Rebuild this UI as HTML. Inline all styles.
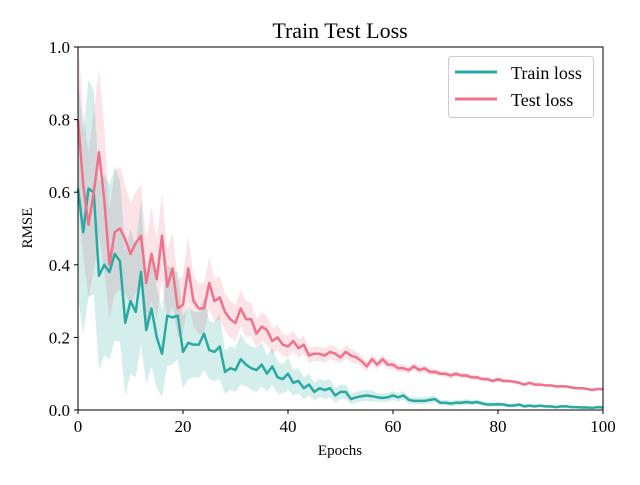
<!DOCTYPE html>
<html><head><meta charset="utf-8"><style>
html,body{margin:0;padding:0;background:#fff}
svg text{font-family:"Liberation Serif",serif}
</style></head><body>
<svg id="chart" width="640" height="480" viewBox="0 0 640 480">
<rect width="640" height="480" fill="#fff"/>
<text x="340" y="38" text-anchor="middle" font-size="22">Train Test Loss</text>
<g id="bands"></g>
<g id="lines"></g>
<rect x="78" y="47" width="525" height="363" fill="none" stroke="#000" stroke-width="1"/>
<g id="ticks"></g>
<text x="340" y="455" text-anchor="middle" font-size="15">Epochs</text>
<text x="32" y="228" text-anchor="middle" font-size="15" transform="rotate(-90 32 228)">RMSE</text>
<g>
<rect x="448.5" y="56.5" width="145" height="61" rx="3" fill="#fff" fill-opacity="0.8" stroke="#ccc"/>
<line x1="455" y1="72" x2="497" y2="72" stroke="#2aa9a1" stroke-width="3"/>
<text x="511" y="79" font-size="18">Train loss</text>
<line x1="455" y1="99" x2="497" y2="99" stroke="#f0718a" stroke-width="3"/>
<text x="511" y="106" font-size="18">Test loss</text>
</g>
</svg>
<script>
const xTicks=[0,20,40,60,80,100];
const yTicks=[0.0,0.2,0.4,0.6,0.8,1.0];
const yTickLabels=["0.0","0.2","0.4","0.6","0.8","1.0"];
const trainLoss=[0.61,0.49,0.61,0.60,0.37,0.40,0.38,0.43,0.41,0.24,0.30,0.27,0.38,0.22,0.28,0.20,0.155,0.26,0.255,0.26,0.16,0.185,0.18,0.18,0.21,0.165,0.16,0.175,0.105,0.115,0.11,0.14,0.125,0.115,0.11,0.125,0.10,0.12,0.09,0.085,0.10,0.075,0.08,0.06,0.07,0.05,0.06,0.055,0.06,0.04,0.05,0.05,0.03,0.035,0.038,0.04,0.038,0.035,0.033,0.035,0.04,0.035,0.04,0.028,0.025,0.025,0.025,0.028,0.03,0.02,0.02,0.018,0.02,0.02,0.022,0.02,0.022,0.018,0.015,0.015,0.016,0.015,0.012,0.012,0.015,0.01,0.012,0.01,0.012,0.01,0.01,0.008,0.01,0.01,0.008,0.008,0.007,0.007,0.006,0.008,0.007];
const testLoss=[0.80,0.62,0.51,0.60,0.71,0.58,0.40,0.49,0.50,0.47,0.43,0.46,0.48,0.35,0.43,0.36,0.48,0.34,0.39,0.28,0.29,0.39,0.30,0.28,0.28,0.35,0.30,0.31,0.27,0.25,0.24,0.28,0.25,0.25,0.21,0.23,0.22,0.19,0.20,0.18,0.175,0.19,0.17,0.18,0.15,0.155,0.155,0.15,0.16,0.155,0.145,0.16,0.15,0.145,0.135,0.12,0.14,0.125,0.14,0.125,0.125,0.115,0.115,0.11,0.12,0.11,0.115,0.105,0.105,0.10,0.10,0.095,0.10,0.095,0.095,0.09,0.09,0.085,0.085,0.08,0.085,0.08,0.08,0.078,0.075,0.07,0.075,0.07,0.07,0.068,0.068,0.065,0.065,0.065,0.062,0.06,0.06,0.058,0.055,0.058,0.057];
const trainStd=[0.3,0.28,0.3,0.28,0.26,0.25,0.24,0.24,0.22,0.2,0.2,0.18,0.2,0.15,0.16,0.14,0.12,0.14,0.13,0.12,0.1,0.1,0.09,0.09,0.1,0.08,0.08,0.09,0.06,0.06,0.06,0.07,0.06,0.06,0.06,0.06,0.05,0.05,0.045,0.04,0.045,0.035,0.035,0.03,0.03,0.025,0.025,0.025,0.025,0.02,0.02,0.02,0.015,0.015,0.015,0.015,0.015,0.012,0.012,0.012,0.012,0.012,0.012,0.01,0.01,0.01,0.01,0.01,0.01,0.008,0.008,0.008,0.008,0.008,0.008,0.007,0.007,0.007,0.006,0.006,0.006,0.006,0.005,0.005,0.005,0.005,0.005,0.004,0.004,0.004,0.004,0.004,0.004,0.004,0.003,0.003,0.003,0.003,0.003,0.003,0.003];
const testStd=[0.22,0.2,0.2,0.22,0.23,0.2,0.15,0.17,0.17,0.15,0.14,0.14,0.14,0.12,0.13,0.11,0.12,0.1,0.1,0.08,0.08,0.09,0.07,0.07,0.07,0.07,0.06,0.06,0.05,0.05,0.05,0.05,0.05,0.045,0.04,0.04,0.04,0.035,0.035,0.03,0.03,0.03,0.025,0.025,0.02,0.02,0.02,0.02,0.02,0.02,0.018,0.018,0.018,0.016,0.015,0.014,0.014,0.013,0.013,0.012,0.012,0.011,0.011,0.01,0.01,0.01,0.01,0.009,0.009,0.008,0.008,0.008,0.008,0.007,0.007,0.007,0.007,0.006,0.006,0.006,0.006,0.006,0.005,0.005,0.005,0.005,0.005,0.005,0.005,0.004,0.004,0.004,0.004,0.004,0.004,0.004,0.004,0.004,0.004,0.004,0.004];

const NS="http://www.w3.org/2000/svg";
const X=v=>78+v*5.25, Y=v=>410-v*363;
const ticks=document.getElementById('ticks');
xTicks.forEach(t=>{
  const l=document.createElementNS(NS,'line');
  l.setAttribute('x1',X(t));l.setAttribute('x2',X(t));l.setAttribute('y1',410);l.setAttribute('y2',414);l.setAttribute('stroke','#000');
  
  
  ticks.appendChild(l);
  const tx=document.createElementNS(NS,'text');
  tx.setAttribute('x',X(t));tx.setAttribute('y',432);tx.setAttribute('text-anchor','middle');tx.setAttribute('font-size','17');
  tx.textContent=t;
  
  
  ticks.appendChild(tx);
});
yTicks.forEach((t,i)=>{
  const l=document.createElementNS(NS,'line');
  l.setAttribute('x1',74);l.setAttribute('x2',78);l.setAttribute('y1',Y(t));l.setAttribute('y2',Y(t));l.setAttribute('stroke','#000');
  
  
  ticks.appendChild(l);
  const tx=document.createElementNS(NS,'text');
  tx.setAttribute('x',70);tx.setAttribute('y',Y(t)+6);tx.setAttribute('text-anchor','end');tx.setAttribute('font-size','17');
  tx.textContent=yTickLabels[i];
  
  
  ticks.appendChild(tx);
});
function band(vals,std,color,name){
  let up=vals.map((v,i)=>X(i)+','+Y(Math.min(1.05,v+std[i])));
  let lo=vals.map((v,i)=>X(i)+','+Y(Math.max(0,v-std[i]))).reverse();
  const p=document.createElementNS(NS,'polygon');
  p.setAttribute('points',up.concat(lo).join(' '));
  p.setAttribute('fill',color);p.setAttribute('fill-opacity','0.2');
  
  
  document.getElementById('bands').appendChild(p);
}
function line(vals,color,name){
  const p=document.createElementNS(NS,'polyline');
  p.setAttribute('points',vals.map((v,i)=>X(i)+','+Y(v)).join(' '));
  p.setAttribute('fill','none');p.setAttribute('stroke',color);p.setAttribute('stroke-width','2.5');p.setAttribute('stroke-linejoin','round');
  
  
  document.getElementById('lines').appendChild(p);
}
band(testLoss,testStd,'#f0718a','test-loss-band');
band(trainLoss,trainStd,'#2aa9a1','train-loss-band');
line(trainLoss,'#2aa9a1','train-loss-line');
line(testLoss,'#f0718a','test-loss-line');
</script>
</body></html>
